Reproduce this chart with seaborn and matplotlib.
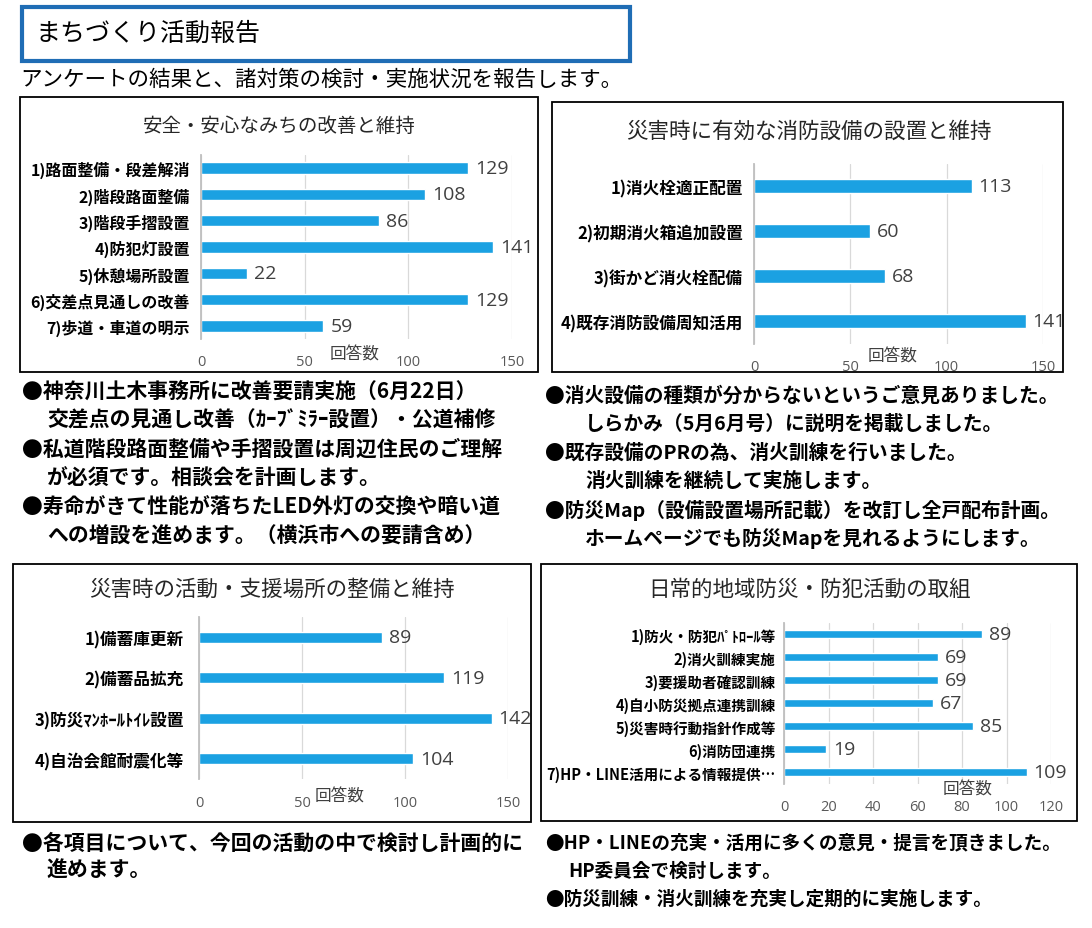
import matplotlib
matplotlib.use("Agg")
import matplotlib.pyplot as plt
import seaborn as sns
import pandas as pd
from matplotlib.patches import Rectangle

W, H = 1092, 929

PAGE_TITLE = "まちづくり活動報告"
PAGE_LEAD = "アンケートの結果と、諸対策の検討・実施状況を報告します。"
AXIS_LABEL = "回答数"

road_title = "安全・安心なみちの改善と維持"
road_items = ["1)路面整備・段差解消", "2)階段路面整備", "3)階段手摺設置", "4)防犯灯設置",
              "5)休憩場所設置", "6)交差点見通しの改善", "7)歩道・車道の明示"]
road_counts = [129, 108, 86, 141, 22, 129, 59]
road_ticks = [0, 50, 100, 150]

fire_title = "災害時に有効な消防設備の設置と維持"
fire_items = ["1)消火栓適正配置", "2)初期消火箱追加設置", "3)街かど消火栓配備", "4)既存消防設備周知活用"]
fire_counts = [113, 60, 68, 141]
fire_ticks = [0, 50, 100, 150]

base_title = "災害時の活動・支援場所の整備と維持"
base_items = ["1)備蓄庫更新", "2)備蓄品拡充", "3)防災ﾏﾝﾎｰﾙﾄｲﾚ設置", "4)自治会館耐震化等"]
base_counts = [89, 119, 142, 104]
base_ticks = [0, 50, 100, 150]

daily_title = "日常的地域防災・防犯活動の取組"
daily_items = ["1)防火・防犯ﾊﾟﾄﾛｰﾙ等", "2)消火訓練実施", "3)要援助者確認訓練", "4)自小防災拠点連携訓練",
               "5)災害時行動指針作成等", "6)消防団連携", "7)HP・LINE活用による情報提供…"]
daily_counts = [89, 69, 69, 67, 85, 19, 109]
daily_ticks = [0, 20, 40, 60, 80, 100, 120]

road_notes = [
    "●神奈川土木事務所に改善要請実施（6月22日）",
    "交差点の見通し改善（ｶｰﾌﾞﾐﾗｰ設置）・公道補修",
    "●私道階段路面整備や手摺設置は周辺住民のご理解",
    "が必須です。相談会を計画します。",
    "●寿命がきて性能が落ちたLED外灯の交換や暗い道",
    "への増設を進めます。（横浜市への要請含め）",
]
fire_notes = [
    "●消火設備の種類が分からないというご意見ありました。",
    "しらかみ（5月6月号）に説明を掲載しました。",
    "●既存設備のPRの為、消火訓練を行いました。",
    "消火訓練を継続して実施します。",
    "●防災Map（設備設置場所記載）を改訂し全戸配布計画。",
    "ホームページでも防災Mapを見れるようにします。",
]
base_notes = [
    "●各項目について、今回の活動の中で検討し計画的に",
    "進めます。",
]
daily_notes = [
    "●HP・LINEの充実・活用に多くの意見・提言を頂きました。",
    "HP委員会で検討します。",
    "●防災訓練・消火訓練を充実し定期的に実施します。",
]

BAR = "#1BA1E2"
JP = ["Noto Sans CJK JP", "DejaVu Sans"]
NUM = ["Open Sans", "DejaVu Sans"]

sns.set_theme(style="white")
plt.rcParams["font.family"] = JP

fig = plt.figure(figsize=(W / 100, H / 100), dpi=100)


def fx(px):
    return px / W


def fy(py):
    return 1 - py / H


def box(x0, y0, x1, y1, color="black", lw=1.3):
    fig.add_artist(Rectangle((fx(x0), fy(y1)), (x1 - x0) / W, (y1 - y0) / H,
                             transform=fig.transFigure, fill=False, ec=color, lw=lw))


def draw_panel(items, counts, ticks, x0, x1, y_top, y_bot, bar_w, label_size, label_pad):
    ax = fig.add_axes([fx(x0), fy(y_bot), (x1 - x0) / W, (y_bot - y_top) / H])
    df = pd.DataFrame({"item": items, "count": counts})
    sns.barplot(data=df, x="count", y="item", color=BAR, saturation=1, width=bar_w,
                orient="h", ax=ax)
    ax.set_xlim(ticks[0], ticks[-1])
    ax.set_xticks(ticks)
    ax.set_ylim(len(items) - 0.5, -0.5)
    ax.grid(axis="x", color="#D9D9D9", lw=0.9)
    ax.grid(axis="y", visible=False)
    ax.set_axisbelow(True)
    for s in ["top", "right", "bottom"]:
        ax.spines[s].set_visible(False)
    ax.spines["left"].set_color("#BFBFBF")
    ax.spines["left"].set_linewidth(1.3)
    ax.tick_params(axis="both", length=0)
    ax.tick_params(axis="x", pad=11)
    ax.tick_params(axis="y", pad=label_pad)
    ax.set_xticklabels([str(t) for t in ticks], fontsize=10.5, color="#595959", family=NUM)
    ax.set_yticks(range(len(items)))
    ax.set_yticklabels(items, fontsize=label_size, fontweight="bold", color="black", family=JP)
    ax.set_xlabel("")
    ax.set_ylabel("")
    ax.patch.set_alpha(0)
    ax.bar_label(ax.containers[0], padding=5, fontsize=14, color="#404040", family=NUM)
    return ax


def notes(lines, x_bullet, x_indent, y_first, step, size):
    for i, line in enumerate(lines):
        x = x_bullet if line.startswith("●") else x_indent
        fig.text(fx(x), fy(y_first + i * step), line, fontsize=size, fontweight="bold",
                 ha="left", va="center", color="black")


# page heading
box(22, 8, 630, 62, color="#1F6DB5", lw=3)
fig.text(fx(35), fy(34), PAGE_TITLE, fontsize=18, ha="left", va="center", color="black")
fig.text(fx(20), fy(80), PAGE_LEAD, fontsize=15.5, ha="left", va="center", color="black")

# panel frames
box(20, 98, 538, 373)
box(552, 103, 1063, 373)
box(13, 565, 531, 823)
box(541, 565, 1077, 822)

# top-left
draw_panel(road_items, road_counts, road_ticks, 201, 512, 155.8, 340.2, 0.42, 11.5, 8)
fig.text(fx(279), fy(127), road_title, fontsize=14, ha="center", va="center", color="#262626")
fig.text(fx(355), fy(355), AXIS_LABEL, fontsize=12, ha="center", va="center", color="#404040")

# top-right
draw_panel(fire_items, fire_counts, fire_ticks, 754, 1043, 164.5, 344.5, 0.3, 12, 8)
fig.text(fx(809), fy(132), fire_title, fontsize=15.5, ha="center", va="center", color="#262626")
fig.text(fx(893), fy(357), AXIS_LABEL, fontsize=12, ha="center", va="center", color="#404040")

# bottom-left
draw_panel(base_items, base_counts, base_ticks, 199, 508, 617.7, 780.3, 0.27, 12, 11)
fig.text(fx(272), fy(590), base_title, fontsize=15.5, ha="center", va="center", color="#262626")
fig.text(fx(340), fy(797), AXIS_LABEL, fontsize=12, ha="center", va="center", color="#404040")

# bottom-right
draw_panel(daily_items, daily_counts, daily_ticks, 784, 1051, 623.5, 784.5, 0.39, 10.5, 6)
fig.text(fx(810), fy(590), daily_title, fontsize=15.5, ha="center", va="center", color="#262626")
fig.text(fx(968), fy(790), AXIS_LABEL, fontsize=12, ha="center", va="center", color="#404040")

# comment blocks
notes(road_notes, 22, 47, 391, 29, 15)
notes(fire_notes, 545, 585, 396, 28.5, 14.2)
notes(base_notes, 22, 46, 843, 27.5, 15)
notes(daily_notes, 545, 568, 843, 28, 13.4)

fig.savefig("out.png", dpi=100)
